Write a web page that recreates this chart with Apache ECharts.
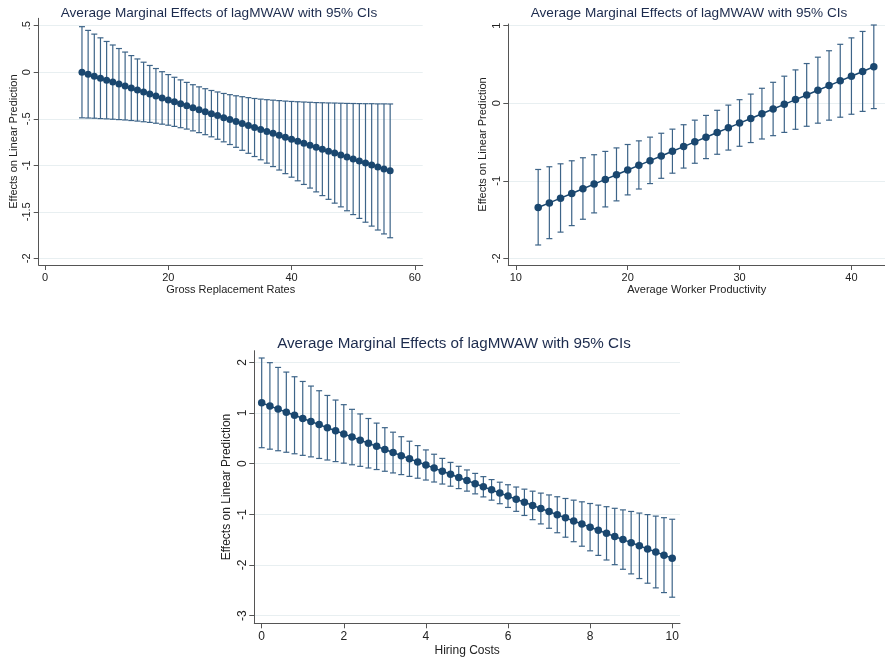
<!DOCTYPE html>
<html>
<head>
<meta charset="utf-8">
<script src="https://cdn.jsdelivr.net/npm/echarts@6/dist/echarts.min.js"></script>
<style>
  html, body { margin: 0; padding: 0; background: #fff; }
  #chart { width: 885px; height: 660px; }
</style>
</head>
<body>
<div id="chart"></div>
<script>
const titleText = 'Average Marginal Effects of lagMWAW with 95% CIs';
const yName = 'Effects on Linear Prediction';

// panel 1: gross replacement rates
const grrX = [6, 7, 8, 9, 10, 11, 12, 13, 14, 15, 16, 17, 18, 19, 20, 21, 22, 23, 24, 25, 26, 27, 28, 29, 30,
  31, 32, 33, 34, 35, 36, 37, 38, 39, 40, 41, 42, 43, 44, 45, 46, 47, 48, 49, 50, 51, 52, 53, 54, 55, 56];
const grrMid = [0, -0.021, -0.042, -0.064, -0.085, -0.106, -0.127, -0.148, -0.170, -0.191, -0.212, -0.233, -0.254,
  -0.276, -0.297, -0.318, -0.339, -0.360, -0.382, -0.403, -0.424, -0.445, -0.466, -0.488, -0.509, -0.530, -0.551,
  -0.572, -0.594, -0.615, -0.636, -0.657, -0.678, -0.700, -0.721, -0.742, -0.763, -0.784, -0.806, -0.827, -0.848,
  -0.869, -0.890, -0.912, -0.933, -0.954, -0.975, -0.996, -1.018, -1.039, -1.060];
const grrHi = [0.490, 0.450, 0.410, 0.370, 0.331, 0.293, 0.255, 0.217, 0.179, 0.143, 0.108, 0.073, 0.040, 0.006,
  -0.025, -0.054, -0.082, -0.109, -0.134, -0.157, -0.177, -0.196, -0.212, -0.228, -0.241, -0.253, -0.263, -0.273,
  -0.282, -0.289, -0.295, -0.300, -0.305, -0.310, -0.314, -0.317, -0.320, -0.323, -0.326, -0.328, -0.330, -0.331,
  -0.333, -0.335, -0.336, -0.337, -0.338, -0.338, -0.340, -0.340, -0.341];
const grrLo = [-0.490, -0.492, -0.494, -0.498, -0.501, -0.505, -0.509, -0.513, -0.519, -0.525, -0.532, -0.539,
  -0.548, -0.558, -0.569, -0.582, -0.596, -0.611, -0.630, -0.649, -0.671, -0.694, -0.720, -0.748, -0.777, -0.807,
  -0.839, -0.871, -0.906, -0.941, -0.977, -1.014, -1.051, -1.090, -1.128, -1.167, -1.206, -1.245, -1.286, -1.326,
  -1.366, -1.407, -1.447, -1.489, -1.530, -1.571, -1.612, -1.654, -1.696, -1.738, -1.779];
const grrXTicks = [0, 20, 40, 60];
const grrYTicks = [-2, -1.5, -1, -0.5, 0, 0.5];

// panel 2: average worker productivity
const prodX = [12, 13, 14, 15, 16, 17, 18, 19, 20, 21, 22, 23, 24, 25, 26, 27, 28, 29, 30, 31, 32, 33, 34, 35,
  36, 37, 38, 39, 40, 41, 42];
const prodMid = [-1.345, -1.285, -1.224, -1.164, -1.103, -1.043, -0.982, -0.922, -0.861, -0.801, -0.740, -0.680,
  -0.619, -0.559, -0.498, -0.438, -0.377, -0.317, -0.256, -0.196, -0.135, -0.075, -0.014, 0.047, 0.107, 0.168,
  0.228, 0.289, 0.349, 0.410, 0.470];
const prodHi = [-0.854, -0.819, -0.781, -0.742, -0.703, -0.664, -0.621, -0.576, -0.532, -0.485, -0.437, -0.387,
  -0.334, -0.277, -0.218, -0.157, -0.091, -0.024, 0.046, 0.118, 0.193, 0.270, 0.349, 0.430, 0.512, 0.594, 0.677,
  0.760, 0.843, 0.926, 1.009];
const prodLo = [-1.828, -1.746, -1.662, -1.578, -1.496, -1.414, -1.337, -1.259, -1.182, -1.106, -1.036, -0.968,
  -0.902, -0.836, -0.774, -0.714, -0.658, -0.604, -0.555, -0.507, -0.461, -0.418, -0.376, -0.336, -0.297, -0.257,
  -0.218, -0.180, -0.142, -0.105, -0.069];
const prodXTicks = [10, 20, 30, 40];
const prodYTicks = [-2, -1, 0, 1];

// panel 3: hiring costs
const hireX = [0, 0.2, 0.4, 0.6, 0.8, 1, 1.2, 1.4, 1.6, 1.8, 2, 2.2, 2.4, 2.6, 2.8, 3, 3.2, 3.4, 3.6, 3.8, 4,
  4.2, 4.4, 4.6, 4.8, 5, 5.2, 5.4, 5.6, 5.8, 6, 6.2, 6.4, 6.6, 6.8, 7, 7.2, 7.4, 7.6, 7.8, 8, 8.2, 8.4, 8.6, 8.8,
  9, 9.2, 9.4, 9.6, 9.8, 10];
const hireMid = [1.200, 1.139, 1.077, 1.016, 0.955, 0.893, 0.832, 0.771, 0.709, 0.648, 0.587, 0.525, 0.464, 0.403,
  0.342, 0.280, 0.219, 0.158, 0.096, 0.035, -0.026, -0.088, -0.149, -0.210, -0.272, -0.333, -0.394, -0.456, -0.517,
  -0.578, -0.640, -0.701, -0.762, -0.824, -0.885, -0.946, -1.008, -1.069, -1.130, -1.191, -1.253, -1.314, -1.375,
  -1.437, -1.498, -1.559, -1.621, -1.682, -1.743, -1.805, -1.866];
const hireHi = [2.085, 1.993, 1.899, 1.807, 1.715, 1.622, 1.531, 1.439, 1.346, 1.255, 1.164, 1.072, 0.981, 0.891,
  0.800, 0.710, 0.621, 0.532, 0.443, 0.357, 0.271, 0.186, 0.104, 0.025, -0.052, -0.124, -0.192, -0.256, -0.314,
  -0.366, -0.416, -0.461, -0.503, -0.543, -0.581, -0.617, -0.653, -0.687, -0.720, -0.753, -0.786, -0.818, -0.849,
  -0.881, -0.912, -0.943, -0.975, -1.005, -1.035, -1.066, -1.097];
const hireLo = [0.315, 0.286, 0.255, 0.225, 0.195, 0.164, 0.134, 0.103, 0.072, 0.041, 0.010, -0.022, -0.053, -0.085,
  -0.116, -0.150, -0.183, -0.216, -0.251, -0.287, -0.323, -0.362, -0.402, -0.445, -0.492, -0.542, -0.596, -0.656,
  -0.720, -0.790, -0.864, -0.941, -1.022, -1.105, -1.189, -1.275, -1.363, -1.451, -1.540, -1.629, -1.720, -1.810,
  -1.901, -1.993, -2.084, -2.175, -2.267, -2.359, -2.451, -2.544, -2.635];
const hireXTicks = [0, 2, 4, 6, 8, 10];
const hireYTicks = [-3, -2, -1, 0, 1, 2];

const navy = '#1a476f';
const barColor = '#3d6488';
const gridColor = '#e8eff1';
const axisColor = '#555';
const font = '"Liberation Sans", Arial, sans-serif';

const stataNum = (v) => String(v).replace('0.', '.');

function xAxisFor(idx, name, min, max, ticks, size, nameGap) {
  return {
    type: 'value', gridIndex: idx, min, max,
    name, nameLocation: 'middle', nameGap,
    nameTextStyle: { color: '#222', fontSize: size, fontFamily: font },
    axisLine: { show: true, onZero: false, lineStyle: { color: axisColor, width: 1 } },
    axisTick: { show: true, length: 5, customValues: ticks, lineStyle: { color: axisColor } },
    axisLabel: { customValues: ticks, color: '#222', fontSize: size, fontFamily: font, margin: 7 },
    splitLine: { show: false }
  };
}

function yAxisFor(idx, min, max, ticks, size, nameGap) {
  return {
    type: 'value', gridIndex: idx, min, max,
    name: yName, nameLocation: 'middle', nameGap,
    nameTextStyle: { color: '#222', fontSize: size, fontFamily: font },
    axisLine: { show: true, onZero: false, lineStyle: { color: axisColor, width: 1 } },
    axisTick: { show: true, length: 5, customValues: ticks, lineStyle: { color: axisColor } },
    axisLabel: { customValues: ticks, rotate: 90, color: '#222', fontSize: size, fontFamily: font,
      margin: 6, formatter: stataNum },
    splitLine: { show: true, lineStyle: { color: gridColor, width: 1 } }
  };
}

function errorBars(params, api) {
  const x = api.value(0);
  const lo = api.coord([x, api.value(1)]);
  const hi = api.coord([x, api.value(2)]);
  const cap = 3;
  const style = { stroke: barColor, lineWidth: 1.2 };
  return {
    type: 'group',
    children: [
      { type: 'line', shape: { x1: lo[0], y1: lo[1], x2: hi[0], y2: hi[1] }, style },
      { type: 'line', shape: { x1: lo[0] - cap, y1: lo[1], x2: lo[0] + cap, y2: lo[1] }, style },
      { type: 'line', shape: { x1: hi[0] - cap, y1: hi[1], x2: hi[0] + cap, y2: hi[1] }, style }
    ]
  };
}

function panelSeries(idx, xs, mid, lo, hi, symbolSize) {
  return [
    {
      type: 'custom', xAxisIndex: idx, yAxisIndex: idx,
      data: xs.map((x, i) => [x, lo[i], hi[i]]),
      encode: { x: 0, y: [1, 2] },
      renderItem: errorBars, z: 2, silent: true
    },
    {
      type: 'line', xAxisIndex: idx, yAxisIndex: idx,
      data: xs.map((x, i) => [x, mid[i]]),
      symbol: 'circle', symbolSize, showSymbol: true,
      lineStyle: { color: navy, width: 1.5 },
      itemStyle: { color: navy },
      z: 3, silent: true
    }
  ];
}

const titleBase = { color: '#1c2b4d', fontWeight: 'normal', fontFamily: font };

const option = {
  animation: false,
  backgroundColor: '#fff',
  title: [
    { text: titleText, left: 214, top: 1, textAlign: 'center', textStyle: { ...titleBase, fontSize: 13.6 } },
    { text: titleText, left: 684, top: 1, textAlign: 'center', textStyle: { ...titleBase, fontSize: 13.6 } },
    { text: titleText, left: 449, top: 331, textAlign: 'center', textStyle: { ...titleBase, fontSize: 15.2 } }
  ],
  grid: [
    { left: 38.7, top: 18.3, width: 384, height: 246.7 },
    { left: 508.3, top: 24, width: 388.3, height: 241 },
    { left: 254.3, top: 350.7, width: 425.7, height: 272.6 }
  ],
  xAxis: [
    xAxisFor(0, 'Gross Replacement Rates', -1.02, 61.28, grrXTicks, 11, 19),
    xAxisFor(1, 'Average Worker Productivity', 9.33, 43, prodXTicks, 11, 19),
    xAxisFor(2, 'Hiring Costs', -0.18, 10.19, hireXTicks, 12, 21)
  ],
  yAxis: [
    yAxisFor(0, -2.072, 0.58, grrYTicks, 11, 19),
    yAxisFor(1, -2.086, 1.022, prodYTicks, 11, 19.5),
    yAxisFor(2, -3.15, 2.229, hireYTicks, 12, 21.5)
  ],
  series: [
    ...panelSeries(0, grrX, grrMid, grrLo, grrHi, 7),
    ...panelSeries(1, prodX, prodMid, prodLo, prodHi, 7.5),
    ...panelSeries(2, hireX, hireMid, hireLo, hireHi, 7.5)
  ]
};

const chart = echarts.init(document.getElementById('chart'), null, { renderer: 'canvas' });
chart.setOption(option);
</script>
</body>
</html>
